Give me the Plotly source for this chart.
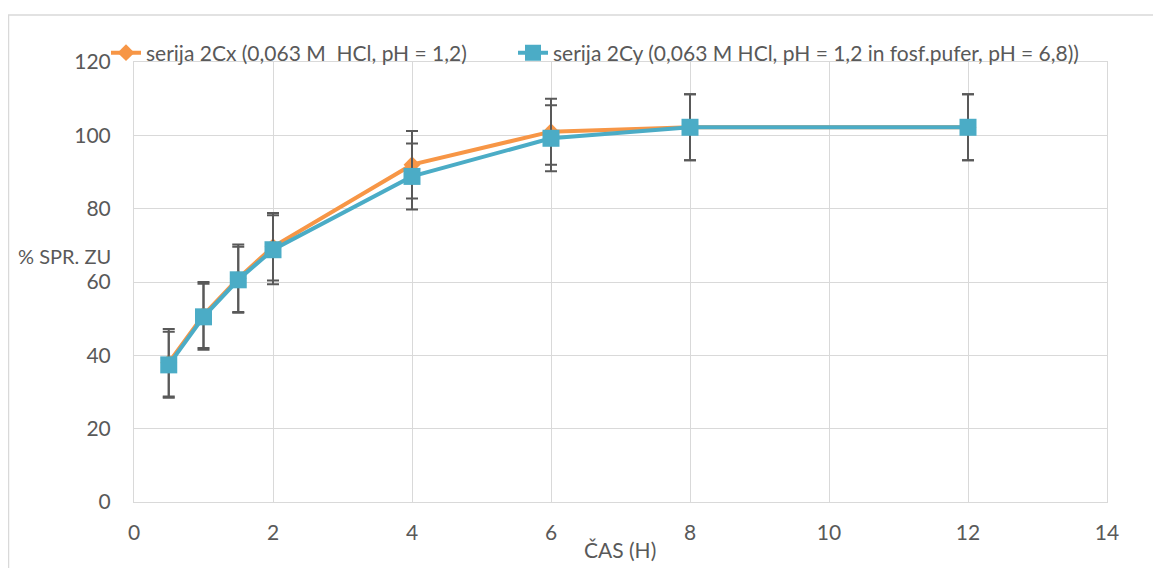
import plotly.graph_objects as go

time_h = [0.5, 1, 1.5, 2, 4, 6, 8, 12]
serija_2cx = [38, 51, 61, 69.6, 92, 101, 102.2, 102.2]
serija_2cy = [37.4, 50.5, 60.6, 68.8, 88.8, 99.2, 102.2, 102.2]
err_2cx = [9.2, 9.0, 9.2, 9.2, 9.2, 9.0, 9.0, 9.0]
err_2cy = [9.0, 9.0, 9.0, 9.4, 9.0, 9.0, 9.0, 9.0]
name_2cx = "serija 2Cx (0,063 M\u00a0 HCl, pH = 1,2)"
name_2cy = "serija 2Cy (0,063 M HCl, pH = 1,2 in fosf.pufer, pH = 6,8))"

FONT = "Lato, 'Open Sans', sans-serif"
ORANGE = "#F79646"
BLUE = "#4BACC6"
ERR = "#595959"
TXT = "#595959"

# figure is offset 8px by the page body margin, so size it to fit the window
W, H = 1153, 560
L, T, PW, PH = 126, 54, 973, 440

fig = go.Figure()
fig.add_trace(go.Scatter(
    x=time_h, y=serija_2cx, name=name_2cx, mode="lines+markers",
    line=dict(color=ORANGE, width=4),
    marker=dict(symbol="diamond", size=13, color=ORANGE),
    error_y=dict(type="data", array=err_2cx, color=ERR, thickness=2, width=6),
    legend="legend",
))
fig.add_trace(go.Scatter(
    x=time_h, y=serija_2cy, name=name_2cy, mode="lines+markers",
    line=dict(color=BLUE, width=4),
    marker=dict(symbol="square", size=17, color=BLUE),
    error_y=dict(type="data", array=err_2cy, color=ERR, thickness=2, width=6),
    legend="legend2",
))

leg_common = dict(orientation="h", xanchor="left", y=1 + 9 / PH, yanchor="middle",
                  font=dict(size=21, color=TXT), bgcolor="rgba(0,0,0,0)")

fig.update_layout(
    width=W, height=H,
    margin=dict(l=L, r=W - L - PW, t=T, b=H - T - PH),
    paper_bgcolor="white", plot_bgcolor="white",
    font=dict(family=FONT, size=21, color=TXT),
    showlegend=True,
    legend=dict(x=(98 - L) / PW, **leg_common),
    legend2=dict(x=(505 - L) / PW, **leg_common),
    xaxis=dict(range=[0, 14], dtick=2, tick0=0, showgrid=True, gridcolor="#d9d9d9",
               gridwidth=1, zeroline=False, showline=True, linecolor="#d9d9d9",
               mirror=True, ticks="outside", ticklen=12, tickcolor="rgba(0,0,0,0)",
               tickfont=dict(size=21, color=TXT)),
    yaxis=dict(range=[0, 120], dtick=20, tick0=0, showgrid=True, gridcolor="#d9d9d9",
               gridwidth=1, zeroline=False, showline=True, linecolor="#d9d9d9",
               mirror=True, ticks="outside", ticklen=18, tickcolor="rgba(0,0,0,0)",
               tickfont=dict(size=21, color=TXT)),
    shapes=[dict(type="rect", xref="paper", yref="paper",
                 x0=(0.5 - L) / PW, x1=(1158 - L) / PW,
                 y0=-(H - T - PH + 10) / PH, y1=1 + (T - 7) / PH,
                 line=dict(color="#d9d9d9", width=1.5), fillcolor="rgba(0,0,0,0)",
                 layer="below")],
    annotations=[
        dict(text="% SPR. ZU", xref="paper", yref="paper", x=(56.5 - L) / PW,
             y=(T + PH - 248) / PH, showarrow=False, xanchor="center", yanchor="middle",
             font=dict(size=20, color=TXT)),
        dict(text="ČAS (H)", xref="paper", yref="paper", x=(612 - L) / PW,
             y=-(541 - T - PH) / PH, showarrow=False, xanchor="center", yanchor="middle",
             font=dict(size=21, color=TXT)),
    ],
)

fig.write_html("out.html")
